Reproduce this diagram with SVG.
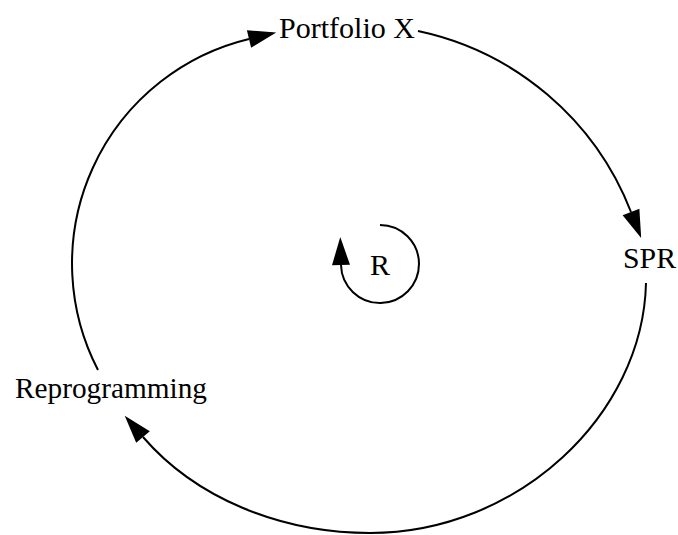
<svg xmlns="http://www.w3.org/2000/svg" width="678" height="535" viewBox="0 0 678 535">
  <style>
    .lbl { font-family: "Liberation Serif", "Times New Roman", serif; font-size: 30px; fill: #000; }
    .link { fill: none; stroke: #000; stroke-width: 2; }
  </style>
  <defs>
    <marker id="arrow" markerUnits="userSpaceOnUse" markerWidth="30" markerHeight="20" refX="0" refY="9" orient="auto" overflow="visible">
      <path d="M0,0 L28,9 L0,18 Z" fill="#000"/>
    </marker>
  </defs>
  <rect width="678" height="535" fill="#fff"/>
  <g id="connectors">
    <path class="link" d="M98,370 A231 231 0 0 1 249,39" marker-end="url(#arrow)"/>
    <path class="link" d="M418,31 A294 294 0 0 1 631,212" marker-end="url(#arrow)"/>
    <path class="link" d="M646,283 C643,415 518,533 370,533 C280,533 195.3,497.7 143,437" marker-end="url(#arrow)"/>
  </g>
  <g id="node-portfolio-x">
    <text class="lbl" x="279" y="38" textLength="136" lengthAdjust="spacingAndGlyphs">Portfolio X</text>
  </g>
  <g id="node-spr">
    <text class="lbl" x="623" y="268" textLength="53" lengthAdjust="spacingAndGlyphs">SPR</text>
  </g>
  <g id="node-reprogramming">
    <text class="lbl" x="15" y="398" textLength="192" lengthAdjust="spacingAndGlyphs">Reprogramming</text>
  </g>
  <g id="loop-r">
    <path class="link" d="M380,225 A39 39 0 1 1 341,265" marker-end="url(#arrow)"/>
    <text class="lbl" x="370" y="275" textLength="20" lengthAdjust="spacingAndGlyphs">R</text>
  </g>
</svg>
